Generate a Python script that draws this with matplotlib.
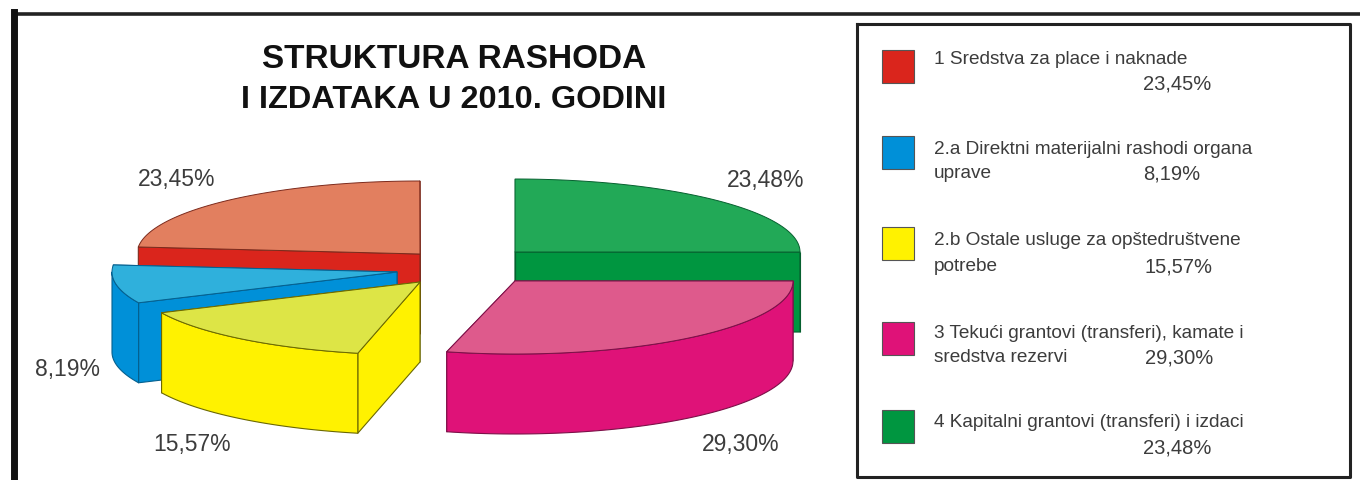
import numpy as np
import matplotlib
matplotlib.use("Agg")
import matplotlib.pyplot as plt

# slices, clockwise from 12 o'clock
slices = ["kapitalni", "tekuci", "ostale", "direktni", "sredstva"]
values = [23.48, 29.30, 15.57, 8.19, 23.45]

legend_first = ["1 Sredstva za place i naknade",
                "2.a Direktni materijalni rashodi organa",
                "2.b Ostale usluge za opštedruštvene",
                "3 Tekući grantovi (transferi), kamate i",
                "4 Kapitalni grantovi (transferi) i izdaci"]
legend_second = ["", "uprave", "potrebe", "sredstva rezervi", ""]
legend_values = [23.45, 8.19, 15.57, 29.30, 23.48]
title_lines = ["STRUKTURA RASHODA", "I IZDATAKA U 2010. GODINI"]

# look of the slices
top_colors = ["#22a957", "#de5a8c", "#dde546", "#2fb0dc", "#e27f5f"]
side_colors = ["#009640", "#df1278", "#fff200", "#0090d8", "#da251c"]
edge_colors = ["#06602f", "#7c1048", "#6b6800", "#05608f", "#7c2a1c"]
apex_x = [515, 515, 420, 397, 420]
apex_y = [253, 282, 283, 273, 255]
radius_x = [285, 278, 285, 285, 283]
paint_order = [0, 4, 3, 1, 2]
# the drawing is not quite true to its numbers
start_shift = [0, 5.5, 2.6, -1, 0]
end_shift = [5.5, 4.2, -1, 0, 0]
RADIUS_Y = 73
DEPTH = 80

label_x = [727, 702, 153, 35, 138]
label_y = [181, 445, 445, 370, 180]
swatch_y = [51, 137, 228, 323, 411]
first_y = [60, 150, 241, 334, 423]
second_y = [84, 174, 267, 358, 448]
value_x = [1143, 1143, 1145, 1145, 1143]
swatch_colors = ["#da251c", "#0090d8", "#fff200", "#df1278", "#009640"]

plt.rcParams["font.family"] = "Liberation Sans"


def pct(v):
    return f"{v:.2f}".replace(".", ",") + "%"


def rim(i, t):
    t = np.radians(t)
    return apex_x[i] + radius_x[i] * np.sin(t), apex_y[i] - RADIUS_Y * np.cos(t)


def draw_slice(ax, i, t0, t1):
    side = dict(facecolor=side_colors[i], edgecolor=edge_colors[i], linewidth=0.8, joinstyle="round")
    # the two cut faces, the rear one first
    for t in (t1, t0):
        x, y = rim(i, t)
        ax.fill([apex_x[i], x, x, apex_x[i]],
                [apex_y[i], y, y + DEPTH, apex_y[i] + DEPTH], **side)
    # curved outer wall, only the part turned to the viewer
    lo, hi = max(t0, 90), min(t1, 270)
    if hi > lo:
        x, y = rim(i, np.linspace(lo, hi, 80))
        ax.fill(np.r_[x, x[::-1]], np.r_[y, y[::-1] + DEPTH], **side)
    x, y = rim(i, np.linspace(t0, t1, 120))
    ax.fill(np.r_[apex_x[i], x], np.r_[apex_y[i], y],
            facecolor=top_colors[i], edgecolor=edge_colors[i], linewidth=0.7)


fig = plt.figure(figsize=(13.6, 4.81), dpi=100)
ax = fig.add_axes([0, 0, 1, 1])
ax.set_xlim(0, 1360)
ax.set_ylim(481, 0)
ax.axis("off")

bounds = np.r_[0, np.cumsum(values)] * 3.6
for i in paint_order:
    draw_slice(ax, i, bounds[i] + start_shift[i], bounds[i + 1] + end_shift[i])

for i, v in enumerate(values):
    ax.text(label_x[i], label_y[i], pct(v), fontsize=16.5, color="#3c3c3c", ha="left", va="center")

# outer frame, open at right and bottom
ax.plot([14, 1360], [15, 15], color="#222222", linewidth=2.6)
ax.plot([14, 14], [13, 481], color="#111111", linewidth=5)

ax.text(454, 60, title_lines[0], weight="bold", fontsize=24, ha="center", va="center", color="#111111")
ax.text(454, 100, title_lines[1], weight="bold", fontsize=23.4, ha="center", va="center", color="#111111")

# legend box
ax.plot([857, 1350, 1350, 857, 857], [25, 25, 478, 478, 25], color="#222222", linewidth=2.2, solid_joinstyle="round")
for i in range(len(legend_first)):
    ax.fill([882, 914, 914, 882], [swatch_y[i], swatch_y[i], swatch_y[i] + 33, swatch_y[i] + 33],
            facecolor=swatch_colors[i], edgecolor="#555555", linewidth=0.8)
    ax.text(934, first_y[i], legend_first[i], fontsize=13.7, color="#3c3c3c", va="center")
    if legend_second[i]:
        ax.text(934, second_y[i], legend_second[i], fontsize=13.7, color="#3c3c3c", va="center")
    ax.text(value_x[i], second_y[i], pct(legend_values[i]), fontsize=14.5, color="#3c3c3c", va="center")

fig.savefig("out.png", dpi=100)
plt.close(fig)
